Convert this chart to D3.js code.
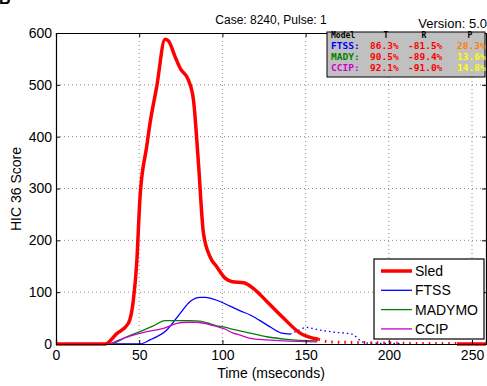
<!DOCTYPE html>
<html><head><meta charset="utf-8">
<script src="https://cdn.jsdelivr.net/npm/d3@7"></script>
<style>body{margin:0;background:#fff}svg{display:block;font-family:Arial,"Liberation Sans",sans-serif}</style>
</head><body><svg id="c" width="487" height="386"></svg>
<script>
const xTicks=[0,50,100,150,200,250];
const yTicks=[0,100,200,300,400,500,600];
const sled=[[0,0],[29.5,0],[36.5,20],[43.5,40],[46.5,85],[48.5,156],[50.5,284],[54.5,381],[56.5,426],[60.5,496],[65.5,588],[67.5,585],[71.6,554],[74.6,532],[79.6,509],[82.6,471],[85.6,349],[88.6,214],[92.6,168],[96.6,149],[101.6,127],[106,120],[112.7,118],[118.7,107],[126.7,82],[136.7,50],[146.7,21],[157.8,9]];
const sledDotted=[[157.8,9],[165,4],[180,3],[200,2],[220,1],[241,1]];
const sledTail=[[241,0],[260,0]];
const ftss=[[0,0],[50.5,0],[56.5,8],[66.6,27],[74.6,59],[80.6,82],[86.6,90],[89.6,90],[94,87],[98.6,82],[104.6,73],[110.7,64],[116.7,56],[126.7,37],[135.7,21],[140.7,19]];
const ftssDotted=[[140.7,19],[144.8,25],[150.8,32],[156.8,28],[166.8,23],[177.8,19],[182.8,7],[186,2],[207,1]];
const mady=[[0,0],[32.5,0],[42.5,14],[50.5,24],[58.5,35],[65.5,45],[80.6,45],[86.6,44],[90.6,41],[96.6,35],[100.6,33],[106.6,28],[116.7,21],[126.7,14],[138.7,9],[157,6]];
const ccip=[[0,0],[30.5,0],[40.5,11],[48.5,19],[54.5,24],[64.5,30],[72.6,40],[78.6,42],[84.6,42],[92.6,37],[100.6,30],[106.6,21],[110.7,17],[116.7,11],[126.7,8],[136.7,6],[157,4]];
const legendNames=["Sled","FTSS","MADYMO","CCIP"];
const legendColors=["#ff0000","#0000ff","#008000","#cc00cc"];
const legendWidths=[3.5,1.3,1.3,1.3];
const tableHeader=["Model","T","R","P"];
const tableModels=["FTSS:","MADY:","CCIP:"];
const tableT=["86.3%","90.5%","92.1%"];
const tableR=["-81.5%","-89.4%","-91.0%"];
const tableP=["28.3%","13.6%","14.8%"];
const tablePColors=["#ff8000","#ffff00","#ffff00"];

const svg=d3.select("#c");
const L=56,R=486,T=33,B=344;
const x=d3.scaleLinear().domain([0,258.4]).range([L,R]);
const y=d3.scaleLinear().domain([0,600]).range([B,T]);

// top-left letter fragment (cut off at the top edge, as in the reference)
svg.append("text").attr("x",-1).attr("y",4).attr("font-size",16).attr("font-weight","bold").text("B");

// grid
const g=svg.append("g");
g.selectAll(".gx").data(xTicks.slice(1)).join("line").attr("x1",d=>x(d)).attr("x2",d=>x(d)).attr("y1",T).attr("y2",B)
 .attr("stroke","#888").attr("stroke-width",1).attr("stroke-dasharray","1,3");
g.selectAll(".gy").data(yTicks.slice(1,-1)).join("line").attr("y1",d=>y(d)).attr("y2",d=>y(d)).attr("x1",L).attr("x2",R)
 .attr("stroke","#888").attr("stroke-width",1).attr("stroke-dasharray","1,3");

svg.append("defs").append("clipPath").attr("id","pc").append("rect").attr("x",L).attr("y",T).attr("width",R-L).attr("height",B-T+2);
const line=d3.line().x(d=>x(d[0])).y(d=>y(d[1])).curve(d3.curveMonotoneX);
const pl=svg.append("g").attr("clip-path","url(#pc)");
pl.append("path").datum(ftssDotted).attr("d",line).attr("fill","none").attr("stroke","#0000ff").attr("stroke-width",1.3).attr("stroke-dasharray","1.5,3");
pl.append("path").datum(sledDotted).attr("d",line).attr("fill","none").attr("stroke","#ff0000").attr("stroke-width",3).attr("stroke-dasharray","1.5,5");
pl.append("path").datum(sledTail).attr("d",line).attr("fill","none").attr("stroke","#ff0000").attr("stroke-width",3.5);
pl.append("path").datum(ftss).attr("d",line).attr("fill","none").attr("stroke","#0000ff").attr("stroke-width",1.3);
pl.append("path").datum(mady).attr("d",line).attr("fill","none").attr("stroke","#008000").attr("stroke-width",1.3);
pl.append("path").datum(ccip).attr("d",line).attr("fill","none").attr("stroke","#cc00cc").attr("stroke-width",1.3);
pl.append("path").datum(sled).attr("d",line).attr("fill","none").attr("stroke","#ff0000").attr("stroke-width",3.5).attr("stroke-linejoin","round");

// axes
const ax=svg.append("g").attr("transform",`translate(0,${B})`).call(d3.axisBottom(x).tickValues(xTicks).tickSize(-4).tickPadding(6));
const ay=svg.append("g").attr("transform",`translate(${L},0)`).call(d3.axisLeft(y).tickValues(yTicks).tickSize(-4).tickPadding(4));
const axTop=svg.append("g").attr("transform",`translate(0,${T})`).call(d3.axisTop(x).tickValues(xTicks).tickSize(-4).tickFormat(""));
const ayR=svg.append("g").attr("transform",`translate(${R},0)`).call(d3.axisRight(y).tickValues(yTicks).tickSize(-4).tickFormat(""));
[ax,ay,axTop,ayR].forEach(a=>{a.select(".domain").attr("stroke","#000").attr("stroke-width",1.2);a.selectAll(".tick line").attr("stroke","#000");a.selectAll("text").attr("font-size",14).attr("fill","#000").attr("font-family","Arial,'Liberation Sans',sans-serif");});

// labels
svg.append("text").attr("x",271).attr("y",24).attr("text-anchor","middle").attr("font-size",12).text("Case: 8240, Pulse: 1");
svg.append("text").attr("x",487).attr("y",28).attr("text-anchor","end").attr("font-size",13).text("Version: 5.0");
svg.append("text").attr("x",271).attr("y",378).attr("text-anchor","middle").attr("font-size",14).text("Time (mseconds)");
svg.append("text").attr("transform","translate(21,189) rotate(-90)").attr("text-anchor","middle").attr("font-size",14).text("HIC 36 Score");

// info table
const tb=svg.append("g");
tb.append("rect").attr("x",327).attr("y",32).attr("width",158).attr("height",45).attr("fill","#c0c0c0").attr("stroke","#000").attr("stroke-width",1);
const colX=[331,370,408,457];
const mono="'DejaVu Sans Mono','Liberation Mono',monospace";
tableHeader.forEach((h,i)=>tb.append("text").attr("x",i==0?colX[0]:colX[i]+(i==3?13:16)).attr("y",38).attr("font-family",mono).attr("font-size",8).attr("font-weight","bold").attr("text-anchor",i==0?"start":"middle").text(h));
tableModels.forEach((m,i)=>{
  const yy=49+i*11;
  tb.append("text").attr("x",colX[0]).attr("y",yy).attr("font-family",mono).attr("font-size",9.5).attr("font-weight","bold").attr("fill",legendColors[i+1]).text(m);
  tb.append("text").attr("x",colX[1]).attr("y",yy).attr("font-family",mono).attr("font-size",9.5).attr("font-weight","bold").attr("fill","#ff0000").text(tableT[i]);
  tb.append("text").attr("x",colX[2]).attr("y",yy).attr("font-family",mono).attr("font-size",9.5).attr("font-weight","bold").attr("fill","#ff0000").text(tableR[i]);
  tb.append("text").attr("x",colX[3]).attr("y",yy).attr("font-family",mono).attr("font-size",9.5).attr("font-weight","bold").attr("fill",tablePColors[i]).text(tableP[i]);
});

// legend
const lg=svg.append("g");
lg.append("rect").attr("x",374).attr("y",259).attr("width",110).attr("height",80).attr("fill","#fff").attr("stroke","#000").attr("stroke-width",1.2);
legendNames.forEach((n,i)=>{
  const yy=271+i*19.3;
  lg.append("line").attr("x1",381).attr("x2",412).attr("y1",yy).attr("y2",yy).attr("stroke",legendColors[i]).attr("stroke-width",legendWidths[i]);
  lg.append("text").attr("x",415).attr("y",yy+5).attr("font-size",14).text(n);
});
</script></body></html>
